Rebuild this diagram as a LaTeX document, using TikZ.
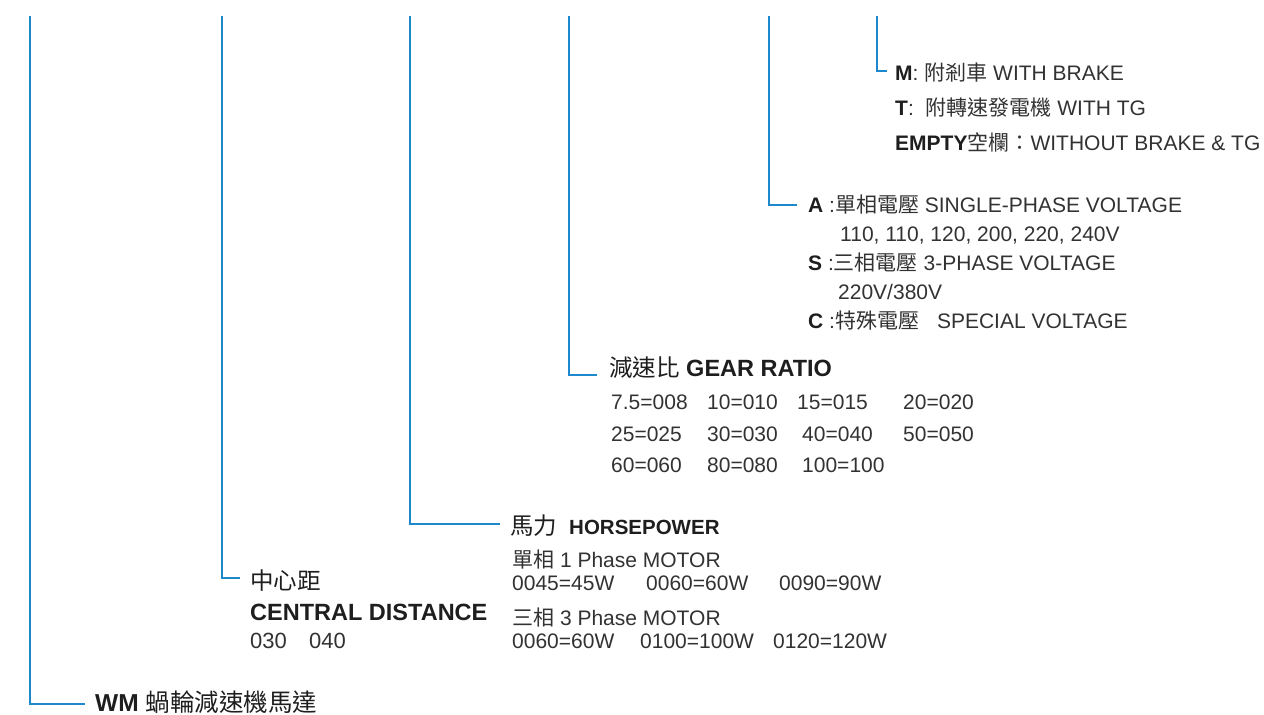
\documentclass[tikz,border=0pt]{standalone}
\usepackage{fontspec}
\setmainfont{Liberation Sans}
\newfontfamily\cjk{Noto Sans CJK TC}
\newcommand\zh[1]{{\cjk #1}}
\definecolor{lineblue}{RGB}{30,136,204}
\definecolor{txtgray}{RGB}{50,50,50}
\definecolor{txtdark}{RGB}{30,30,30}
\begin{document}
\begin{tikzpicture}[x=1pt,y=-1pt,
  conn/.style={draw=lineblue,line width=2.1pt},
  t/.style={anchor=base west,inner sep=0pt,text=txtgray,font=\fontsize{21}{24}\selectfont},
  hd/.style={anchor=base west,inner sep=0pt,text=txtdark,font=\fontsize{23.5}{26}\selectfont}]
\useasboundingbox (0,0) rectangle (1264,715);
% top coordinates of the branch lines
\coordinate (top1) at (30,16);
\coordinate (top2) at (222,16);
\coordinate (top3) at (410,16);
\coordinate (top4) at (569,16);
\coordinate (top5) at (769,16);
\coordinate (top6) at (877,16);
% brake / TG
\node[t] (m) at (895,80) {\textbf{\color{txtdark}M}: \zh{附剎車} WITH BRAKE};
\node[t] (tg) at (895,115) {\textbf{\color{txtdark}T}:\ \ \zh{附轉速發電機} WITH TG};
\node[t] (em) at (895,150) {\textbf{\color{txtdark}EMPTY}\zh{空欄：}WITHOUT BRAKE \& TG};
% voltage
\node[t] (a) at (808,212) {\textbf{\color{txtdark}A} :\zh{單相電壓} SINGLE-PHASE VOLTAGE};
\node[t] (a2) at (840,241) {110, 110, 120, 200, 220, 240V};
\node[t] (s) at (808,270) {\textbf{\color{txtdark}S} :\zh{三相電壓} 3-PHASE VOLTAGE};
\node[t] (s2) at (838,299) {220V/380V};
\node[t] (c) at (808,328) {\textbf{\color{txtdark}C} :\zh{特殊電壓}\hspace{18pt}SPECIAL VOLTAGE};
% gear ratio
\node[hd] (g) at (609,376) {\zh{減速比} \textbf{GEAR RATIO}};
\node[t] (g11) at (611,409) {7.5=008};
\node[t] (g12) at (707,409) {10=010};
\node[t] (g13) at (797,409) {15=015};
\node[t] (g14) at (903,409) {20=020};
\node[t] (g21) at (611,441) {25=025};
\node[t] (g22) at (707,441) {30=030};
\node[t] (g23) at (802,441) {40=040};
\node[t] (g24) at (903,441) {50=050};
\node[t] (g31) at (611,472) {60=060};
\node[t] (g32) at (707,472) {80=080};
\node[t] (g33) at (802,472) {100=100};
% horsepower
\node[hd] (hp) at (510,534) {\zh{馬力}};
\node[hd,font=\fontsize{20.5}{24}\selectfont] (hpe) at (569,534) {\textbf{HORSEPOWER}};
\node[t] (p1) at (512,567) {\zh{單相} 1 Phase MOTOR};
\node[t] (p11) at (512,590) {0045=45W};
\node[t] (p12) at (646,590) {0060=60W};
\node[t] (p13) at (779,590) {0090=90W};
\node[t] (p3) at (512,625) {\zh{三相} 3 Phase MOTOR};
\node[t] (p31) at (512,648) {0060=60W};
\node[t] (p32) at (640,648) {0100=100W};
\node[t] (p33) at (773,648) {0120=120W};
% central distance
\node[hd] (cd) at (250,589) {\zh{中心距}};
\node[hd] (cde) at (250,620) {\textbf{CENTRAL DISTANCE}};
\node[t,font=\fontsize{22}{26}\selectfont] (cd1) at (250,648) {030};
\node[t,font=\fontsize{22}{26}\selectfont] (cd2) at (309,648) {040};
% model
\node[hd,font=\fontsize{24.5}{28}\selectfont] (wm) at (95,711) {\textbf{WM} \zh{蝸輪減速機馬達}};
% branch connectors
\draw[conn] (top1) |- ([xshift=-10pt,yshift=7pt]wm.base west);
\draw[conn] (top2) |- ([xshift=-10pt,yshift=11pt]cd.base west);
\draw[conn] (top3) |- ([xshift=-10pt,yshift=10pt]hp.base west);
\draw[conn] (top4) |- ([xshift=-12pt,yshift=1pt]g.base west);
\draw[conn] (top5) |- ([xshift=-11pt,yshift=7pt]a.base west);
\draw[conn] (top6) |- ([xshift=-8pt,yshift=9pt]m.base west);
\end{tikzpicture}
\end{document}
